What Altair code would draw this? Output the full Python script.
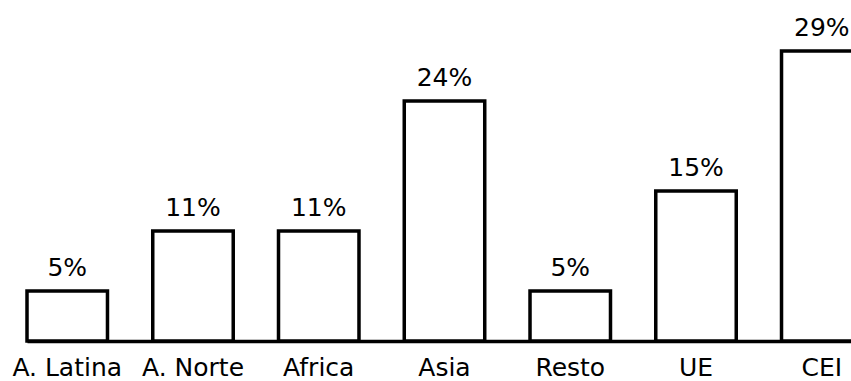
import altair as alt
import pandas as pd

# Share by region (%)
regions = ["A. Latina", "A. Norte", "Africa", "Asia", "Resto", "UE", "CEI"]
shares = [5, 11, 11, 24, 5, 15, 29]
labels = ["5%", "11%", "11%", "24%", "5%", "15%", "29%"]

df = pd.DataFrame({"region": regions, "share": shares, "label": labels})

FONT = "DejaVu Sans"
SIZE = 25

x = alt.X(
    "region:N",
    sort=regions,
    title=None,
    scale=alt.Scale(range=[27, 862], paddingInner=0.36, paddingOuter=0),
    axis=alt.Axis(
        labelAngle=0,
        labelFont=FONT,
        labelFontSize=SIZE,
        labelColor="black",
        labelPadding=14,
        ticks=False,
        domainColor="black",
        domainWidth=3.5,
        labelOverlap=False,
    ),
)
y = alt.Y("share:Q", scale=alt.Scale(domain=[0, 34.1]), axis=None)

bars = alt.Chart(df).mark_bar(
    fill="white", stroke="black", strokeWidth=3.5, strokeJoin="miter"
).encode(x=x, y=y)

text = alt.Chart(df).mark_text(
    baseline="bottom", dy=-10, font=FONT, fontSize=SIZE, color="black"
).encode(x=x, y=y, text="label:N")

chart = (
    (bars + text)
    .properties(
        width=851,
        height=341,
        autosize=alt.AutoSizeParams(type="none"),
        padding={"left": 0, "top": 0, "right": 0, "bottom": 40},
        background="white",
    )
    .configure_view(stroke=None)
)

chart.save("out.html", embed_options={"renderer": "svg", "actions": False})
